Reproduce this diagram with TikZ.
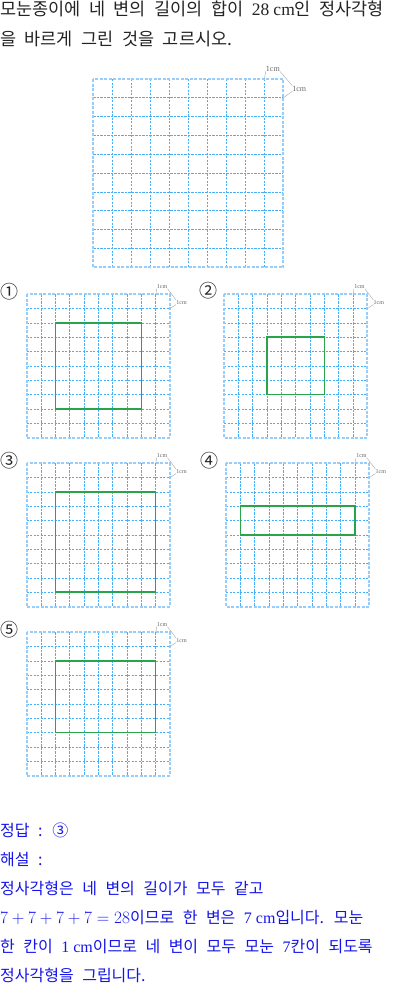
\documentclass[tikz,border=0pt]{standalone}
\usepackage{fontspec}
\setmainfont{Noto Sans CJK KR}
\newfontfamily\lat{Liberation Serif}
\definecolor{gridblue}{RGB}{70,175,250}
\definecolor{gridlight}{RGB}{150,205,250}
\definecolor{sqgreen}{RGB}{40,165,75}
\definecolor{ansblue}{RGB}{20,20,235}
\definecolor{txtgray}{RGB}{35,35,35}
\newcommand\qfont{\fontsize{17.5}{20}\selectfont\spaceskip=8.5pt\relax}
\newcommand\afont{\fontsize{16}{20}\selectfont\spaceskip=8.5pt\relax}
\tikzset{
  gl/.style={draw=gridblue, line width=0.7pt, dash pattern=on 2.2pt off 1.3pt},
  gb/.style={draw=gridlight, line width=1.8pt, dash pattern=on 3pt off 1.5pt},
  sq/.style={draw=sqgreen, line width=1.6pt},
  callline/.style={draw=gray!70, line width=0.4pt},
  calltxt/.style={inner sep=0pt, text=gray!80!black},
  qtext/.style={anchor=base west, inner sep=0pt, text=txtgray, font=\qfont},
  atext/.style={anchor=base west, inner sep=0pt, text=ansblue, font=\afont},
  num/.style={anchor=center, inner sep=0pt, text=txtgray, font=\fontsize{18}{18}\selectfont}
}
% #1 name, #2 x0, #3 y0, #4 cell w, #5 cell h, #6 label size, #7 top label dy, #8 right label dx, #9 right dy
\newcommand\papergrid[9]{%
  \begin{scope}[shift={(#2,#3)}]
    \foreach \i in {1,...,9} {
      \draw[gl] (\i*#4,0) -- (\i*#4,10*#5);
      \draw[gl] (0,\i*#5) -- (10*#4,\i*#5);
    }
    \draw[gb] (0,0) rectangle (10*#4,10*#5);
    \coordinate (#1tl) at (9*#4,0);
    \coordinate (#1tr) at (10*#4,0);
    \coordinate (#1br) at (10*#4,#5);
    \node[calltxt, font=\lat\fontsize{#6}{#6}\selectfont] (#1top) at (9.45*#4,-#7) {1cm};
    \node[calltxt, font=\lat\fontsize{#6}{#6}\selectfont] (#1right) at (10*#4+#8,#9) {1cm};
  \end{scope}
  \draw[callline] (#1tl) -- (#1top.south west);
  \draw[callline] (#1top.south east) -- (#1right.north west);
  \draw[callline] (#1right.south west) -- (#1br);
}
\begin{document}
\begin{tikzpicture}[x=1pt,y=-1pt]
\useasboundingbox (0,0) rectangle (400,991);
% question
\node[qtext] (q1) at (0,15.5) {모눈종이에 네 변의 길이의 합이 {\lat 28\hspace{4pt}cm}인 정사각형};
\node[qtext] (q2) at (0,45.5) {을 바르게 그린 것을 고르시오.};
% main grid
\papergrid{m}{93.3}{79}{19}{18.83}{8}{10.5}{16}{9.5}
% options
\papergrid{a}{26.7}{294.3}{14.33}{14.33}{6}{7.8}{11.5}{8}
\papergrid{b}{224}{294.3}{14.33}{14.33}{6}{7.8}{11.5}{8}
\papergrid{c}{26.7}{463.3}{14.33}{14.33}{6}{7.8}{11.5}{8}
\papergrid{d}{226}{463.3}{14.33}{14.33}{6}{7.8}{11.5}{8}
\papergrid{e}{26.7}{632.3}{14.33}{14.33}{6}{7.8}{11.5}{8}
% circled numbers
\node[num] (n1) at (10,291.5) {①};
\node[num] (n2) at (208,291) {②};
\node[num] (n3) at (10,461) {③};
\node[num] (n4) at (209,461) {④};
\node[num] (n5) at (9.5,630) {⑤};
% squares
\draw[sq] (26.7+2*14.33,294.3+2*14.33) rectangle (26.7+8*14.33,294.3+8*14.33);
\draw[sq] (224+3*14.33,294.3+3*14.33) rectangle (224+7*14.33,294.3+7*14.33);
\draw[sq] (26.7+2*14.33,463.3+2*14.33) rectangle (26.7+9*14.33,463.3+9*14.33);
\draw[sq] (226+1*14.33,463.3+3*14.33) rectangle (226+9*14.33,463.3+5*14.33);
\draw[sq] (26.7+2*14.33,632.3+2*14.33) rectangle (26.7+9*14.33,632.3+7*14.33);
% answer
\node[atext] (a1) at (0,836) {정답 : ③};
\node[atext] (a2) at (0,865) {해설 :};
\node[atext] (a3) at (0,894.5) {정사각형은 네 변의 길이가 모두 같고};
\node[atext] (a4) at (0,923) {$7+7+7+7=28$이므로 한 변은 {\lat 7\hspace{4pt}cm}입니다. 모눈};
\node[atext] (a5) at (0,952.5) {한 칸이 {\lat 1\hspace{4pt}cm}이므로 네 변이 모두 모눈 {\lat 7}칸이 되도록};
\node[atext] (a6) at (0,981) {정사각형을 그립니다.};
\end{tikzpicture}
\end{document}
